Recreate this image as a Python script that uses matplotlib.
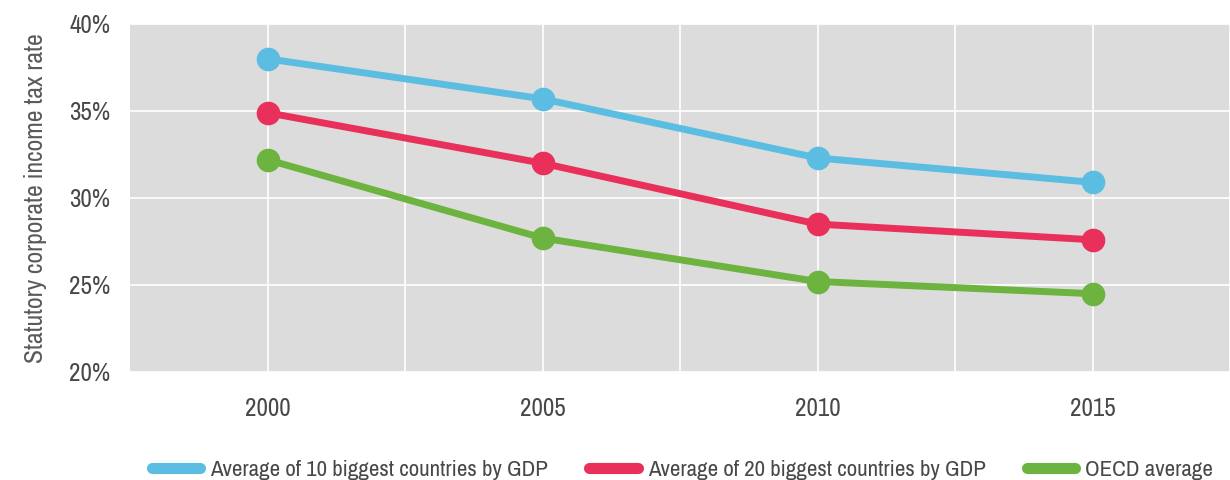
import matplotlib
matplotlib.use("Agg")
import matplotlib.pyplot as plt
from matplotlib import font_manager
from matplotlib.ticker import FuncFormatter, MultipleLocator

# values (percent)
years = [2000, 2005, 2010, 2015]
top10 = [38.0, 35.7, 32.3, 30.9]
top20 = [34.9, 32.0, 28.5, 27.6]
oecd = [32.2, 27.7, 25.2, 24.5]

labels = ["Average of 10 biggest countries by GDP",
          "Average of 20 biggest countries by GDP",
          "OECD average"]
colors = ["#5bbde2", "#e8305a", "#6db33f"]

# reference uses a narrow DIN-like face; take a condensed one if installed
names = sorted({f.name for f in font_manager.fontManager.ttflist})
narrow = [n for n in names if "Narrow" in n or "Condensed" in n]
plt.rcParams['font.family'] = (narrow[:1] or ['Roboto']) + ['DejaVu Sans']
text_color = "#484848"

fig = plt.figure(figsize=(12.3, 4.8), dpi=100)
ax = fig.add_axes([0.1057, 0.225, 0.8943, 0.725])
ax.set_facecolor("#dcdcdc")

for ys, lab, c in zip([top10, top20, oecd], labels, colors):
    ax.plot(years, ys, color=c, lw=5, marker="o", markersize=16,
            label=lab, zorder=3)

ax.set_xlim(1997.5, 2017.25)
ax.set_ylim(20, 40)
ax.set_xticks(years)
ax.set_xticks([2002.5, 2007.5, 2012.5, 2017.5], minor=True)
ax.yaxis.set_major_locator(MultipleLocator(5))
ax.yaxis.set_major_formatter(FuncFormatter(lambda v, p: f"{v:.0f}%"))
ax.grid(which="both", color="white", lw=1.2, zorder=0)
ax.set_axisbelow(True)
for s in ax.spines.values():
    s.set_visible(False)
ax.tick_params(which="both", length=0, labelsize=18, colors=text_color)
ax.tick_params(axis="x", pad=18)
ax.tick_params(axis="y", pad=14)
ax.set_ylabel("Statutory corporate income tax rate", fontsize=18.5,
              color="#5a5a5a", labelpad=16)

leg = fig.legend(loc="center", bbox_to_anchor=(0.555, 0.021), ncol=3,
                 frameon=False, fontsize=16.5, handlelength=2.1,
                 columnspacing=1.8, labelcolor=text_color, handletextpad=0.45)
for ln in leg.get_lines():
    ln.set_marker("")
    ln.set_linewidth(8)
    ln.set_solid_capstyle("round")

fig.savefig("out.png", dpi=100)
